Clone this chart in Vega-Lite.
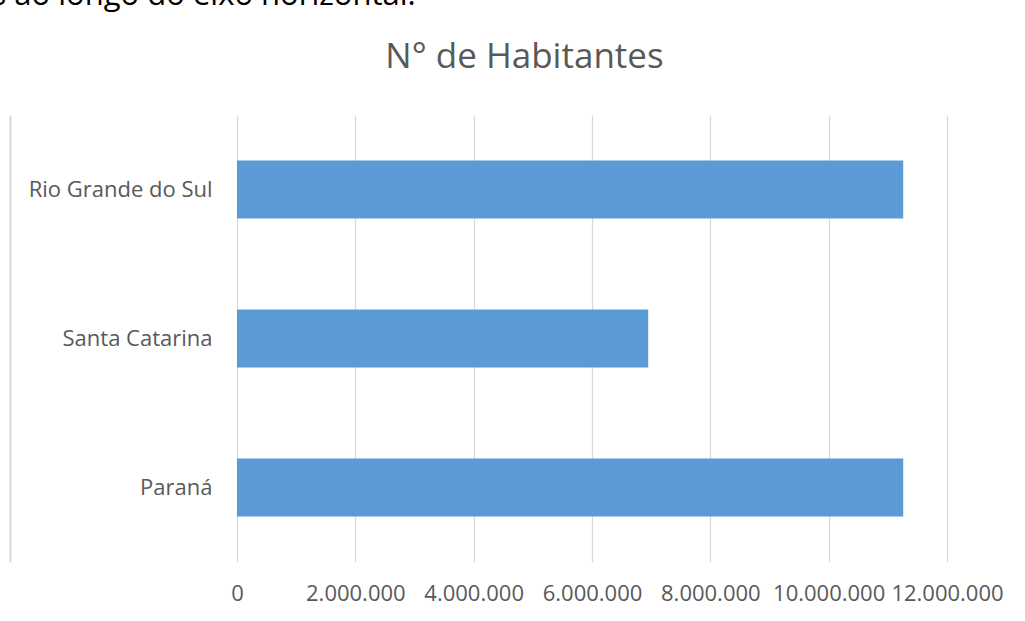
{
  "$schema": "https://vega.github.io/schema/vega-lite/v6.json",
  "autosize": "none",
  "width": 710,
  "height": 447,
  "padding": {"left": 237, "top": 115, "right": 78, "bottom": 59},
  "background": "white",
  "config": {
    "locale": {
      "number": {"decimal": ",", "thousands": ".", "grouping": [3], "currency": ["R$ ", ""]}
    },
    "view": {"stroke": null},
    "font": "Open Sans"
  },
  "data": {
    "values": [
      {"estado": "Rio Grande do Sul", "habitantes": 11260000},
      {"estado": "Santa Catarina", "habitantes": 6950000},
      {"estado": "Paraná", "habitantes": 11260000}
    ]
  },
  "layer": [
    {
      "mark": {"type": "bar", "color": "#5B9BD5"},
      "encoding": {
        "y": {
          "field": "estado",
          "type": "nominal",
          "sort": ["Rio Grande do Sul", "Santa Catarina", "Paraná"],
          "scale": {"paddingInner": 0.61, "paddingOuter": 0.305},
          "axis": {
            "title": "s ao longo do eixo horizontal.",
            "titleFont": "Open Sans",
            "titleFontSize": 31,
            "titleFontWeight": "normal",
            "titleColor": "#000000",
            "titleAngle": 0,
            "titleAlign": "left",
            "titleBaseline": "alphabetic",
            "titleX": -246,
            "titleY": -111,
            "orient": "left",
            "domain": false,
            "ticks": false,
            "labelPadding": 25,
            "labelLimit": 400,
            "labelFont": "Open Sans",
            "labelFontSize": 22,
            "labelColor": "#595959"
          }
        },
        "x": {
          "field": "habitantes",
          "type": "quantitative",
          "scale": {"domain": [0, 12000000], "nice": false},
          "axis": {
            "title": null,
            "orient": "bottom",
            "values": [0, 2000000, 4000000, 6000000, 8000000, 10000000, 12000000],
            "format": ",d",
            "domain": false,
            "ticks": false,
            "grid": true,
            "gridColor": "#d9d9d9",
            "gridWidth": 1.2,
            "labelPadding": 21,
            "labelFlush": false,
            "labelFont": "Open Sans",
            "labelFontSize": 22,
            "labelColor": "#595959",
            "labelOverlap": false
          }
        }
      }
    },
    {
      "mark": {"type": "point", "opacity": 0},
      "encoding": {
        "y": {
          "field": "estado",
          "type": "nominal",
          "sort": ["Rio Grande do Sul", "Santa Catarina", "Paraná"],
          "axis": {
            "title": null,
            "orient": "left",
            "offset": 227,
            "domain": true,
            "domainColor": "#d9d9d9",
            "domainWidth": 2,
            "ticks": false,
            "labels": false,
            "grid": false
          }
        },
        "x": {
          "field": "habitantes",
          "type": "quantitative",
          "axis": {
            "orient": "top",
            "title": "N° de Habitantes",
            "titleFont": "Open Sans",
            "titleFontSize": 35,
            "titleFontWeight": "normal",
            "titleColor": "#595959",
            "titleAlign": "center",
            "titleBaseline": "alphabetic",
            "titleX": 287,
            "titleY": -48,
            "domain": false,
            "ticks": false,
            "labels": false,
            "grid": false
          }
        }
      }
    }
  ],
  "resolve": {"axis": {"x": "independent", "y": "independent"}}
}
